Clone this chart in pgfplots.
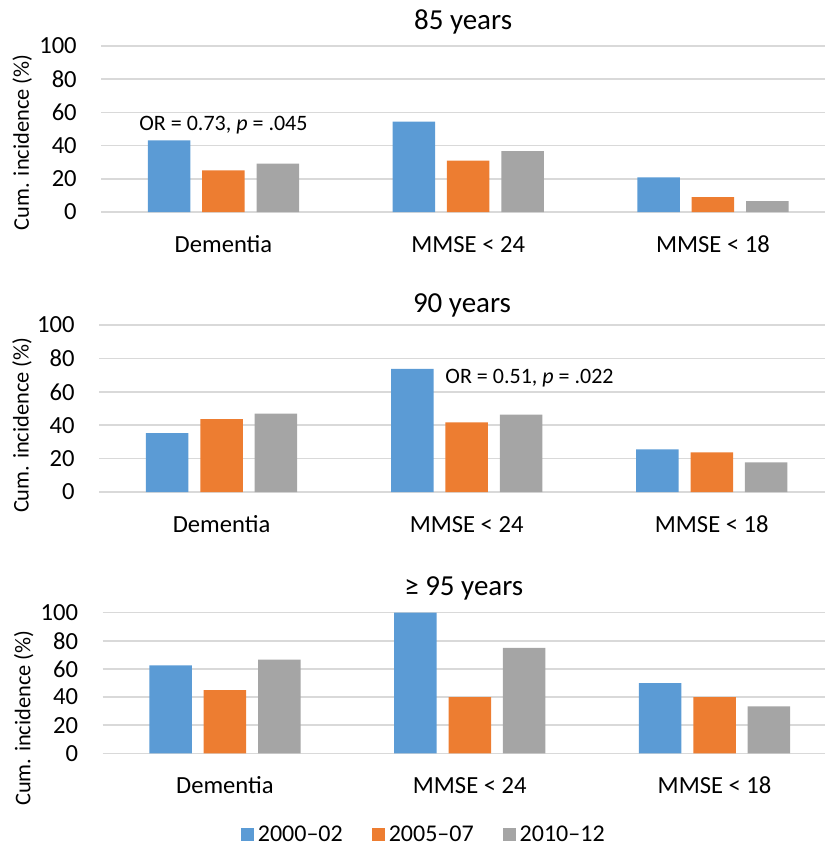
\documentclass[border=0pt]{standalone}
\usepackage{fontspec}
\setmainfont{Carlito}
\usepackage{pgfplots}
\pgfplotsset{compat=1.18}
\definecolor{cblue}{HTML}{5B9BD5}
\definecolor{corange}{HTML}{ED7D31}
\definecolor{cgray}{HTML}{A5A5A5}
\definecolor{cgrid}{HTML}{D9D9D9}
\pgfplotsset{
 panel/.style={
  scale only axis, ybar, ymin=0, ymax=100, ytick={0,20,...,100}, xmin=-0.5,
  xtick={0,1,2}, xticklabels={Dementia, MMSE < 24, MMSE < 18},
  ymajorgrids, grid style={cgrid, line width=0.75pt},
  axis line style={draw=none}, major tick length=0pt,
  tick label style={font=\fontsize{12.3}{14}\selectfont},
  /pgf/number format/assume math mode=true,
  yticklabel style={anchor=east, inner sep=0pt},
  yticklabel shift=12pt,
  xticklabel style={anchor=base, inner sep=0pt, yshift=-20pt},
  ylabel={Cum. incidence (\%)},
  label style={font=\fontsize{11.2}{13}\selectfont},
  title style={font=\fontsize{14.5}{17}\selectfont, anchor=base, at={(axis description cs:0.5,1)}},
  bar width=21.25pt,
  anchor=south west,
 },
 sq/.style={legend image code/.code={\fill[##1] (0pt,-3.25pt) rectangle (6.5pt,3.25pt);}},
 b1/.style={fill=cblue, draw=none, bar shift=-27.2pt, sq},
 b2/.style={fill=corange, draw=none, bar shift=0pt, sq},
 b3/.style={fill=cgray, draw=none, bar shift=27.2pt, sq},
}
\newcommand{\annfont}{\fontsize{11}{13}\selectfont}
\begin{document}
\begin{tikzpicture}
% Panel 1
\begin{axis}[panel, at={(50.55pt,-106pt)}, width=361.95pt, height=83pt, xmax=2.458,
  title={85 years}, title style={yshift=2.35pt},
  ylabel style={at={(axis description cs:-0.109,0.42)}, anchor=center}]
\addplot[b1] coordinates {(0,43.2) (1,54.4) (2,20.9)};
\addplot[b2] coordinates {(0,25.1) (1,30.9) (2,9.0)};
\addplot[b3] coordinates {(0,29.1) (1,36.7) (2,6.6)};
\node[anchor=base west, inner sep=0pt, font=\annfont] at (axis cs:-0.345,48.8) {OR = 0.73, \textit{p} = .045};
\end{axis}
% Panel 2
\begin{axis}[panel, at={(49.5pt,-246pt)}, width=363pt, height=83.5pt, xmax=2.462,
  title={90 years}, title style={yshift=0.5pt},
  ylabel style={at={(axis description cs:-0.106,0.40)}, anchor=center}]
\addplot[b1] coordinates {(0,35.3) (1,73.8) (2,25.6)};
\addplot[b2] coordinates {(0,43.7) (1,41.7) (2,23.8)};
\addplot[b3] coordinates {(0,46.9) (1,46.3) (2,17.8)};
\node[anchor=base west, inner sep=0pt, font=\annfont] at (axis cs:0.912,65.1) {OR = 0.51, \textit{p} = .022};
\end{axis}
% Panel 3
\begin{axis}[panel, at={(51.25pt,-376.65pt)}, width=361.25pt, height=70.3pt, xmax=2.451,
  title={≥ 95 years}, title style={yshift=2.85pt},
  ylabel style={at={(axis description cs:-0.109,0.25)}, anchor=center},
  legend style={draw=none, legend columns=3, at={(axis description cs:0.446,-0.581)}, anchor=center,
    font=\fontsize{12}{14}\selectfont, inner sep=0pt,
    /tikz/every even column/.append style={column sep=12.5pt}},
  legend cell align=left]
\addplot[b1] coordinates {(0,62.5) (1,100) (2,50)};
\addplot[b2] coordinates {(0,45) (1,40) (2,40)};
\addplot[b3] coordinates {(0,66.7) (1,75) (2,33.3)};
\addlegendentry{2000–02}
\addlegendentry{2005–07}
\addlegendentry{2010–12}
\end{axis}
\pgfresetboundingbox
\useasboundingbox (0,0) rectangle (412.5pt,-422.5pt);
\end{tikzpicture}
\end{document}
